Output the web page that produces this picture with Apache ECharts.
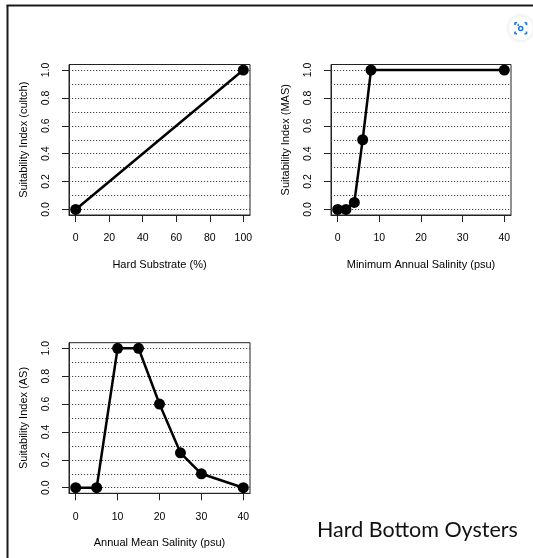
<!DOCTYPE html>
<html>
<head>
<meta charset="utf-8">
<script src="https://cdn.jsdelivr.net/npm/echarts@6/dist/echarts.min.js"></script>
<style>
html,body{margin:0;padding:0;background:#fff;}
#chart{width:533px;height:558px;}
</style>
</head>
<body>
<div id="chart"></div>
<script>
// ---- data ----
const hardX = [0, 100];
const hardY = [0, 1];
const masX = [0, 2, 4, 6, 8, 40];
const masY = [0, 0, 0.05, 0.5, 1, 1];
const asX = [0, 5, 10, 15, 20, 25, 30, 40];
const asY = [0, 0, 1, 1, 0.6, 0.25, 0.1, 0];
const hardTicks = [0, 20, 40, 60, 80, 100];
const salTicks = [0, 10, 20, 30, 40];
const yTicks = [0, 0.2, 0.4, 0.6, 0.8, 1.0];
const yGrid = [0, 0.1, 0.2, 0.3, 0.4, 0.5, 0.6, 0.7, 0.8, 0.9, 1.0];
const xNames = ['Hard Substrate (%)', 'Minimum Annual Salinity (psu)', 'Annual Mean Salinity (psu)'];
const yNames = ['Suitability Index (cultch)', 'Suitability Index (MAS)', 'Suitability Index (AS)'];
const titleText = 'Hard Bottom Oysters';

const FONT = 'Liberation Sans, Arial, sans-serif';
function pad(lo, hi) { const d = (hi - lo) * 0.04; return [lo - d, hi + d]; }
function zip(xs, ys) { return xs.map((x, i) => [x, ys[i]]); }

const grids = [
  { left: 69, top: 64.5, width: 181, height: 150.5 },
  { left: 331, top: 64.5, width: 180, height: 150.5 },
  { left: 69, top: 342.7, width: 181, height: 150.6 }
];
const xRanges = [[0, 100], [0, 40], [0, 40]];
const xTickSets = [hardTicks, salTicks, salTicks];
const dataSets = [zip(hardX, hardY), zip(masX, masY), zip(asX, asY)];

const option = {
  animation: false,
  backgroundColor: '#fff',
  grid: grids.map(g => Object.assign({ show: true, borderColor: '#222', borderWidth: 1, backgroundColor: 'transparent', containLabel: false }, g)),
  xAxis: grids.map((g, i) => {
    const r = pad(xRanges[i][0], xRanges[i][1]);
    return {
      type: 'value', gridIndex: i, min: r[0], max: r[1],
      name: xNames[i], nameLocation: 'middle', nameGap: 44,
      nameTextStyle: { fontFamily: FONT, fontSize: 11, color: '#000' },
      axisLine: { show: true, onZero: false, lineStyle: { color: '#222', width: 1 } },
      axisTick: { show: true, inside: false, length: 7, customValues: xTickSets[i], lineStyle: { color: '#222', width: 1 } },
      axisLabel: { show: true, customValues: xTickSets[i], margin: 18, fontFamily: FONT, fontSize: 10.5, color: '#000' },
      splitLine: { show: false }
    };
  }),
  yAxis: grids.map((g, i) => {
    const r = pad(0, 1);
    return {
      type: 'value', gridIndex: i, min: r[0], max: r[1],
      name: yNames[i], nameLocation: 'middle', nameGap: 40,
      nameTextStyle: { fontFamily: FONT, fontSize: 11, color: '#000' },
      axisLine: { show: true, onZero: false, lineStyle: { color: '#222', width: 1 } },
      axisTick: { show: true, inside: false, length: 7, customValues: yTicks, lineStyle: { color: '#222', width: 1 } },
      axisLabel: { show: true, customValues: yTicks, rotate: 90, margin: 17, fontFamily: FONT, fontSize: 10.5, color: '#000',
        formatter: v => Number(v).toFixed(1) },
      splitLine: { show: false }
    };
  }),
  title: {
    text: titleText, left: 312, top: 514,
    textStyle: { fontFamily: 'Lato, sans-serif', fontSize: 21.5, fontWeight: 'normal', color: '#111' }
  },
  series: dataSets.map((d, i) => ({
    type: 'line', xAxisIndex: i, yAxisIndex: i, data: d,
    symbol: 'circle', symbolSize: 11, showAllSymbol: true,
    lineStyle: { color: '#000', width: 2.5 },
    itemStyle: { color: '#000' },
    clip: false,
    markLine: {
      silent: true, symbol: 'none', label: { show: false },
      lineStyle: { type: [1.2, 1.8], color: '#444', width: 1 },
      data: yGrid.map(v => ({ yAxis: v })),
      z: 1
    }
  })),
  graphic: [
    { type: 'line', shape: { x1: 6.5, y1: 5.5, x2: 533, y2: 5.5 }, style: { stroke: '#1a1a1a', lineWidth: 2 } },
    { type: 'line', shape: { x1: 7.5, y1: 5.5, x2: 7.5, y2: 558 }, style: { stroke: '#1a1a1a', lineWidth: 2 } },
    { type: 'circle', shape: { cx: 520.7, cy: 28.3, r: 12 }, style: { fill: '#fff', shadowBlur: 4, shadowColor: 'rgba(0,0,0,0.15)' } },
    { type: 'polyline', shape: { points: [[515, 25], [515, 23], [517, 22.5]] }, style: { stroke: '#1a73e8', lineWidth: 1.6, fill: null } },
    { type: 'polyline', shape: { points: [[524.5, 22.5], [526.5, 23], [526.5, 25]] }, style: { stroke: '#1a73e8', lineWidth: 1.6, fill: null } },
    { type: 'polyline', shape: { points: [[515, 31.5], [515, 33.5], [517, 34]] }, style: { stroke: '#1a73e8', lineWidth: 1.6, fill: null } },
    { type: 'polyline', shape: { points: [[524.5, 34], [526.5, 33.5], [526.5, 31.5]] }, style: { stroke: '#1a73e8', lineWidth: 1.6, fill: null } },
    { type: 'circle', shape: { cx: 520.7, cy: 28.5, r: 2 }, style: { fill: null, stroke: '#1a73e8', lineWidth: 1.5 } },
    { type: 'circle', shape: { cx: 518.2, cy: 25, r: 0.9 }, style: { fill: '#1a73e8' } }
  ]
};

const chart = echarts.init(document.getElementById('chart'), null, { renderer: 'canvas' });
chart.setOption(option);
</script>
</body>
</html>
